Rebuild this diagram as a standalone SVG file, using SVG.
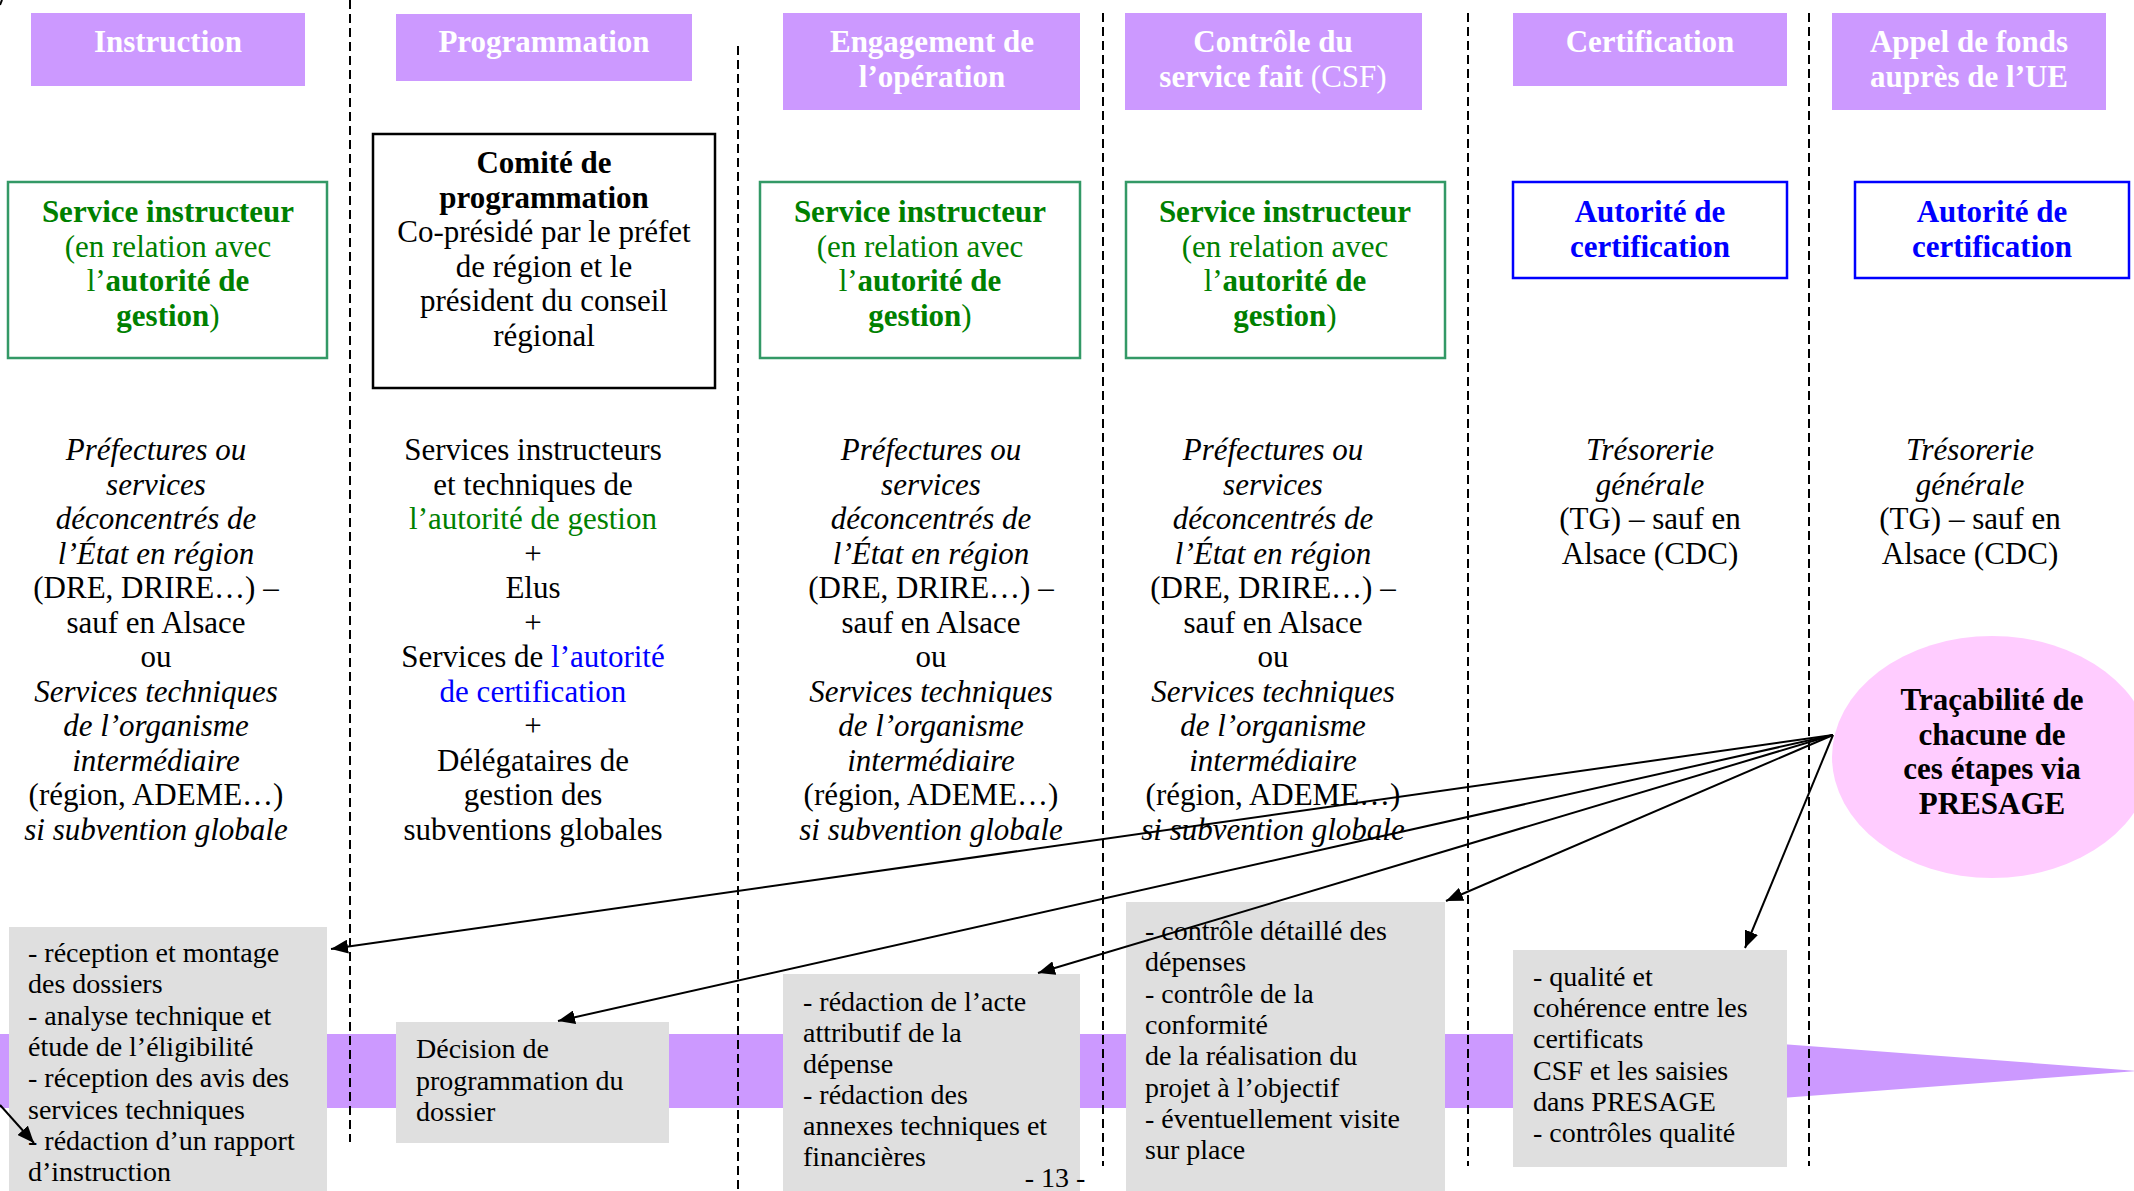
<svg xmlns="http://www.w3.org/2000/svg" width="2134" height="1191" viewBox="0 0 2134 1191">
<defs>
<style>
.t{font-family:"Liberation Serif","DejaVu Serif",serif;font-size:31px;text-anchor:middle;fill:#000}
.s{font-size:28px;text-anchor:start}
.b{font-weight:bold}
.i{font-style:italic}
.w{fill:#fff}
.g{fill:#008000}
.bl{fill:#0000ff}
.hdr{fill:#CC99FF}
.gray{fill:#DFDFDF}
.gbox{fill:#fff;stroke:#339966;stroke-width:2.5}
.bbox{fill:#fff;stroke:#0000ff;stroke-width:2.5}
.dash{stroke:#000;stroke-width:2;stroke-dasharray:9 5;fill:none}
.conn{stroke:#000;stroke-width:2;fill:none;marker-end:url(#ah)}
</style>
<marker id="ah" markerUnits="userSpaceOnUse" markerWidth="18" markerHeight="14" refX="17" refY="7" orient="auto">
<path d="M0,0 L17,7 L0,14 z" fill="#000"/>
</marker>
</defs>
<rect width="2134" height="1191" fill="#fff"/>

<g id="band">
<polygon class="hdr" points="0,1034 1650,1034 2138,1071 1650,1108 0,1108"/>
</g>

<g id="separators">
<line class="dash" x1="350" y1="0" x2="350" y2="1142"/>
<line class="dash" x1="738" y1="46" x2="738" y2="1191"/>
<line class="dash" x1="1103" y1="13" x2="1103" y2="1166"/>
<line class="dash" x1="1468" y1="13" x2="1468" y2="1166"/>
<line class="dash" x1="1809" y1="13" x2="1809" y2="1166"/>
</g>

<g id="h-instruction">
<rect class="hdr" x="31" y="13" width="274" height="73"/>
<text class="t b w" x="168" y="52">Instruction</text>
</g>
<g id="h-programmation">
<rect class="hdr" x="396" y="14" width="296" height="67"/>
<text class="t b w" x="544" y="52">Programmation</text>
</g>
<g id="h-engagement">
<rect class="hdr" x="783" y="13" width="297" height="97"/>
<text class="t b w" x="932" y="52">Engagement de</text>
<text class="t b w" x="932" y="86.5">l’opération</text>
</g>
<g id="h-csf">
<rect class="hdr" x="1125" y="13" width="297" height="97"/>
<text class="t b w" x="1273" y="52">Contrôle du</text>
<text class="t b w" x="1273" y="86.5">service fait <tspan font-weight="normal">(CSF)</tspan></text>
</g>
<g id="h-certification">
<rect class="hdr" x="1513" y="13" width="274" height="73"/>
<text class="t b w" x="1650" y="52">Certification</text>
</g>
<g id="h-appel">
<rect class="hdr" x="1832" y="13" width="274" height="97"/>
<text class="t b w" x="1969" y="52">Appel de fonds</text>
<text class="t b w" x="1969" y="86.5">auprès de l’UE</text>
</g>

<g id="r-instruction">
<rect class="gbox" x="8" y="182" width="319" height="176"/>
<text class="t b g" x="168" y="222">Service instructeur</text>
<text class="t g" x="168" y="256.5">(en relation avec</text>
<text class="t g" x="168" y="291">l’<tspan font-weight="bold">autorité de</tspan></text>
<text class="t g" x="168" y="325.5"><tspan font-weight="bold">gestion</tspan>)</text>
</g>
<g id="r-comite">
<rect x="373" y="134" width="342" height="254" fill="#fff" stroke="#000" stroke-width="2.5"/>
<text class="t b" x="544" y="173">Comité de</text>
<text class="t b" x="544" y="207.5">programmation</text>
<text class="t" x="544" y="242">Co-présidé par le préfet</text>
<text class="t" x="544" y="276.5">de région et le</text>
<text class="t" x="544" y="311">président du conseil</text>
<text class="t" x="544" y="345.5">régional</text>
</g>
<g id="r-engagement">
<rect class="gbox" x="760" y="182" width="320" height="176"/>
<text class="t b g" x="920" y="222">Service instructeur</text>
<text class="t g" x="920" y="256.5">(en relation avec</text>
<text class="t g" x="920" y="291">l’<tspan font-weight="bold">autorité de</tspan></text>
<text class="t g" x="920" y="325.5"><tspan font-weight="bold">gestion</tspan>)</text>
</g>
<g id="r-csf">
<rect class="gbox" x="1126" y="182" width="319" height="176"/>
<text class="t b g" x="1285" y="222">Service instructeur</text>
<text class="t g" x="1285" y="256.5">(en relation avec</text>
<text class="t g" x="1285" y="291">l’<tspan font-weight="bold">autorité de</tspan></text>
<text class="t g" x="1285" y="325.5"><tspan font-weight="bold">gestion</tspan>)</text>
</g>
<g id="r-certification">
<rect class="bbox" x="1513" y="182" width="274" height="96"/>
<text class="t b bl" x="1650" y="222">Autorité de</text>
<text class="t b bl" x="1650" y="256.5">certification</text>
</g>
<g id="r-appel">
<rect class="bbox" x="1855" y="182" width="274" height="96"/>
<text class="t b bl" x="1992" y="222">Autorité de</text>
<text class="t b bl" x="1992" y="256.5">certification</text>
</g>

<g id="d-instruction">
<text class="t i" x="156" y="460">Préfectures ou</text>
<text class="t i" x="156" y="494.5">services</text>
<text class="t i" x="156" y="529">déconcentrés de</text>
<text class="t i" x="156" y="563.5">l’État en région</text>
<text class="t" x="156" y="598">(DRE, DRIRE…) –</text>
<text class="t" x="156" y="632.5">sauf en Alsace</text>
<text class="t" x="156" y="667">ou</text>
<text class="t i" x="156" y="701.5">Services techniques</text>
<text class="t i" x="156" y="736">de l’organisme</text>
<text class="t i" x="156" y="770.5">intermédiaire</text>
<text class="t" x="156" y="805">(région, ADEME…)</text>
<text class="t i" x="156" y="839.5">si subvention globale</text>
</g>
<g id="d-programmation">
<text class="t" x="533" y="460">Services instructeurs</text>
<text class="t" x="533" y="494.5">et techniques de</text>
<text class="t g" x="533" y="529">l’autorité de gestion</text>
<text class="t" x="533" y="563.5">+</text>
<text class="t" x="533" y="598">Elus</text>
<text class="t" x="533" y="632.5">+</text>
<text class="t" x="533" y="667">Services de <tspan class="bl">l’autorité</tspan></text>
<text class="t bl" x="533" y="701.5">de certification</text>
<text class="t" x="533" y="736">+</text>
<text class="t" x="533" y="770.5">Délégataires de</text>
<text class="t" x="533" y="805">gestion des</text>
<text class="t" x="533" y="839.5">subventions globales</text>
</g>
<g id="d-engagement">
<text class="t i" x="931" y="460">Préfectures ou</text>
<text class="t i" x="931" y="494.5">services</text>
<text class="t i" x="931" y="529">déconcentrés de</text>
<text class="t i" x="931" y="563.5">l’État en région</text>
<text class="t" x="931" y="598">(DRE, DRIRE…) –</text>
<text class="t" x="931" y="632.5">sauf en Alsace</text>
<text class="t" x="931" y="667">ou</text>
<text class="t i" x="931" y="701.5">Services techniques</text>
<text class="t i" x="931" y="736">de l’organisme</text>
<text class="t i" x="931" y="770.5">intermédiaire</text>
<text class="t" x="931" y="805">(région, ADEME…)</text>
<text class="t i" x="931" y="839.5">si subvention globale</text>
</g>
<g id="d-csf">
<text class="t i" x="1273" y="460">Préfectures ou</text>
<text class="t i" x="1273" y="494.5">services</text>
<text class="t i" x="1273" y="529">déconcentrés de</text>
<text class="t i" x="1273" y="563.5">l’État en région</text>
<text class="t" x="1273" y="598">(DRE, DRIRE…) –</text>
<text class="t" x="1273" y="632.5">sauf en Alsace</text>
<text class="t" x="1273" y="667">ou</text>
<text class="t i" x="1273" y="701.5">Services techniques</text>
<text class="t i" x="1273" y="736">de l’organisme</text>
<text class="t i" x="1273" y="770.5">intermédiaire</text>
<text class="t" x="1273" y="805">(région, ADEME…)</text>
<text class="t i" x="1273" y="839.5">si subvention globale</text>
</g>
<g id="d-certification">
<text class="t i" x="1650" y="460">Trésorerie</text>
<text class="t i" x="1650" y="494.5">générale</text>
<text class="t" x="1650" y="529">(TG) – sauf en</text>
<text class="t" x="1650" y="563.5">Alsace (CDC)</text>
</g>
<g id="d-appel">
<text class="t i" x="1970" y="460">Trésorerie</text>
<text class="t i" x="1970" y="494.5">générale</text>
<text class="t" x="1970" y="529">(TG) – sauf en</text>
<text class="t" x="1970" y="563.5">Alsace (CDC)</text>
</g>

<g id="presage">
<ellipse cx="1992" cy="757" rx="160" ry="121" fill="#FFCCFF"/>
<text class="t b" x="1992" y="710">Traçabilité de</text>
<text class="t b" x="1992" y="744.5">chacune de</text>
<text class="t b" x="1992" y="779">ces étapes via</text>
<text class="t b" x="1992" y="813.5">PRESAGE</text>
</g>

<g id="a-instruction">
<rect class="gray" x="9" y="927" width="318" height="264"/>
<text class="t s" x="28" y="962">- réception et montage</text>
<text class="t s" x="28" y="993.3">des dossiers</text>
<text class="t s" x="28" y="1024.6">- analyse technique et</text>
<text class="t s" x="28" y="1055.9">étude de l’éligibilité</text>
<text class="t s" x="28" y="1087.2">- réception des avis des</text>
<text class="t s" x="28" y="1118.5">services techniques</text>
<text class="t s" x="28" y="1149.8">- rédaction d’un rapport</text>
<text class="t s" x="28" y="1181.1">d’instruction</text>
</g>
<g id="a-programmation">
<rect class="gray" x="396" y="1022" width="273" height="121"/>
<text class="t s" x="416" y="1058">Décision de</text>
<text class="t s" x="416" y="1089.5">programmation du</text>
<text class="t s" x="416" y="1121">dossier</text>
</g>
<g id="a-engagement">
<rect class="gray" x="783" y="974" width="297" height="217"/>
<text class="t s" x="803" y="1011">- rédaction de l’acte</text>
<text class="t s" x="803" y="1042">attributif de la</text>
<text class="t s" x="803" y="1073">dépense</text>
<text class="t s" x="803" y="1104">- rédaction des</text>
<text class="t s" x="803" y="1135">annexes techniques et</text>
<text class="t s" x="803" y="1166">financières</text>
<text class="t" style="font-size:28px" x="1055" y="1187">- 13 -</text>
</g>
<g id="a-csf">
<rect class="gray" x="1126" y="902" width="319" height="289"/>
<text class="t s" x="1145" y="940">- contrôle détaillé des</text>
<text class="t s" x="1145" y="971.3">dépenses</text>
<text class="t s" x="1145" y="1002.6">- contrôle de la</text>
<text class="t s" x="1145" y="1033.9">conformité</text>
<text class="t s" x="1145" y="1065.2">de la réalisation du</text>
<text class="t s" x="1145" y="1096.5">projet à l’objectif</text>
<text class="t s" x="1145" y="1127.8">- éventuellement visite</text>
<text class="t s" x="1145" y="1159.1">sur place</text>
</g>
<g id="a-certification">
<rect class="gray" x="1513" y="950" width="274" height="217"/>
<text class="t s" x="1533" y="986">- qualité et</text>
<text class="t s" x="1533" y="1017.2">cohérence entre les</text>
<text class="t s" x="1533" y="1048.4">certificats</text>
<text class="t s" x="1533" y="1079.6">CSF et les saisies</text>
<text class="t s" x="1533" y="1110.8">dans PRESAGE</text>
<text class="t s" x="1533" y="1142">- contrôles qualité</text>
</g>

<g id="connectors">
<line class="conn" x1="1833" y1="735" x2="331" y2="949"/>
<line class="conn" x1="1833" y1="735" x2="558" y2="1021"/>
<line class="conn" x1="1833" y1="735" x2="1038" y2="973"/>
<line class="conn" x1="1833" y1="735" x2="1446" y2="901"/>
<line class="conn" x1="1833" y1="735" x2="1745" y2="948"/>
<line class="conn" x1="0" y1="1105" x2="34" y2="1143"/>
<line x1="0" y1="5" x2="2" y2="0" stroke="#000" stroke-width="2"/>
</g>
</svg>
